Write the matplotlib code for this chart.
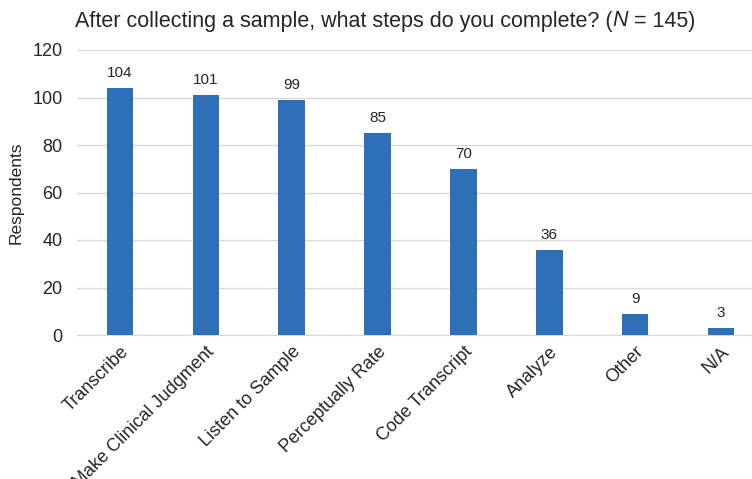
import matplotlib
matplotlib.use("Agg")
import matplotlib.pyplot as plt

categories = ["Transcribe", "Make Clinical Judgment", "Listen to Sample", "Perceptually Rate",
              "Code Transcript", "Analyze", "Other", "N/A"]
values = [104, 101, 99, 85, 70, 36, 9, 3]
yticks = [0, 20, 40, 60, 80, 100, 120]

plt.rcParams['font.family'] = ['Liberation Sans', 'DejaVu Sans']

fig = plt.figure(figsize=(7.52, 4.79), dpi=100)
ax = fig.add_axes([77/752, 144/479, 687/752, 285/479])

x = list(range(len(categories)))
bars = ax.bar(x, values, width=0.31, color='#2E70B8', zorder=3)
for xi, v in zip(x, values):
    ax.annotate(str(v), (xi, v), xytext=(0, 5.5), textcoords='offset points',
                ha='center', va='bottom', fontsize=11, color='#262626')

ax.set_xlim(-0.5, len(categories) - 0.5)
ax.set_ylim(0, 120)
ax.set_yticks(yticks)
ax.yaxis.grid(True, color='#d9d9d9', linewidth=1, zorder=0)
ax.tick_params(axis='y', length=0, labelsize=13, pad=10.5, colors='#262626')
ax.tick_params(axis='x', length=0, labelsize=13, pad=6, colors='#262626')
ax.set_xticks(x)
ax.set_xticklabels(categories, rotation=45, ha='right', rotation_mode='anchor')
for s in ['top', 'right', 'left']:
    ax.spines[s].set_visible(False)
ax.spines['bottom'].set_color('#d9d9d9')
ax.set_ylabel('Respondents', fontsize=12.5, color='#262626', labelpad=6)

ty = 1 - 21/479
t1 = fig.text(75/752, ty, 'After collecting a sample, what steps do you complete? (',
              fontsize=15.5, va='center', ha='left', color='#262626')
fig.canvas.draw()
bb = t1.get_window_extent()
t2 = fig.text(bb.x1/752, ty, 'N', fontsize=15.5, style='italic', va='center', ha='left', color='#262626')
bb2 = t2.get_window_extent()
fig.text(bb2.x1/752, ty, ' = 145)', fontsize=15.5, va='center', ha='left', color='#262626')

fig.savefig('out.png', dpi=100)
